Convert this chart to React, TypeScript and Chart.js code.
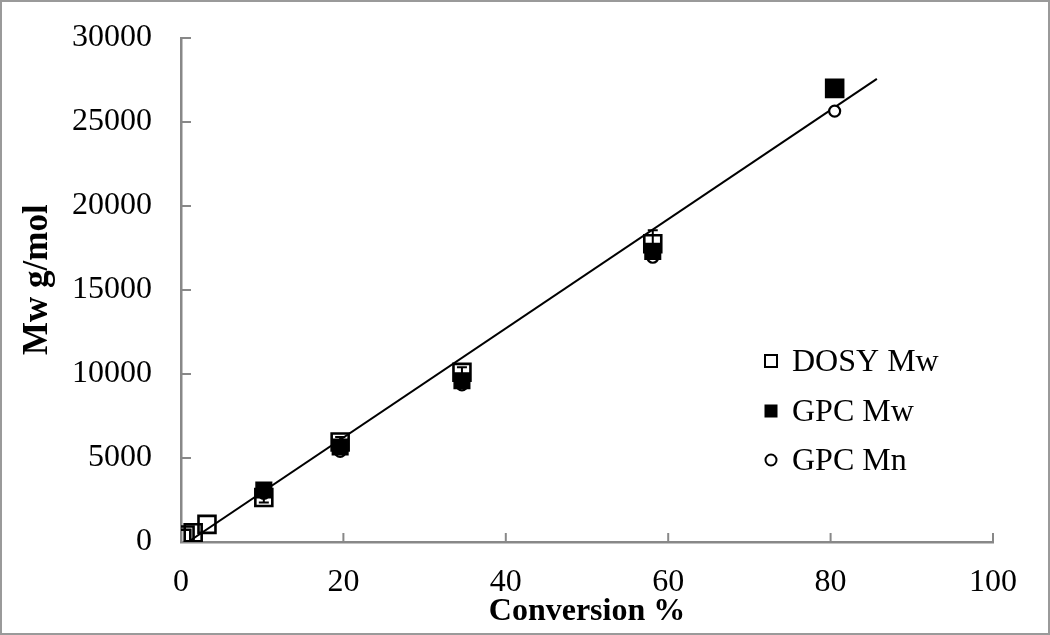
import React, { useEffect, useRef } from "react";
import { Chart, registerables } from "chart.js";

Chart.register(...registerables);

// ---- data ----
const dosyConversion = [0.1, 0.5, 1.5, 3.2, 10.2, 19.6, 34.6, 58.1, 80.5];
const dosyMw = [220, 420, 550, 1050, 2650, 5950, 10100, 17750, 27000];
const dosyError = [0, 0, 0, 0, 300, 300, 300, 800, 500];

const gpcConversion = [10.2, 19.6, 34.6, 58.1, 80.5];
const gpcMw = [3100, 5650, 9600, 17300, 27050];
const gpcMn = [2900, 5400, 9350, 16950, 25650];

const trendConversion = [0.86, 85.7];
const trendMw = [0, 27570];

const seriesLabels = ["DOSY Mw", "GPC Mw", "GPC Mn"];
const xTitle = "Conversion %";
const yTitle = "Mw g/mol";

const FONT = "'Liberation Serif', 'Times New Roman', serif";
const AXIS_GRAY = "#888888";

const pts = (xs: number[], ys: number[]) => xs.map((x, i) => ({ x, y: ys[i] }));

export default function App() {
  const ref = useRef<HTMLCanvasElement | null>(null);

  useEffect(() => {
    document.body.style.margin = "0";
    const canvas = ref.current;
    if (!canvas) return;

    const framePlugin = {
      id: "frame",
      beforeDraw(chart: any) {
        const ctx = chart.ctx;
        ctx.save();
        ctx.fillStyle = "#fff";
        ctx.fillRect(0, 0, chart.width, chart.height);
        ctx.strokeStyle = "#9a9a9a";
        ctx.lineWidth = 2;
        ctx.strokeRect(1, 1, chart.width - 2, chart.height - 2);
        ctx.restore();
      },
    };

    const innerTicksPlugin = {
      id: "innerTicks",
      beforeDatasetsDraw(chart: any) {
        const ctx = chart.ctx;
        const xs = chart.scales.x;
        const ys = chart.scales.y;
        const area = chart.chartArea;
        ctx.save();
        ctx.strokeStyle = AXIS_GRAY;
        ctx.lineWidth = 2;
        xs.ticks.forEach((t: any) => {
          if (t.value === 0) return;
          const px = xs.getPixelForValue(t.value);
          ctx.beginPath();
          ctx.moveTo(px, area.bottom);
          ctx.lineTo(px, area.bottom - 9);
          ctx.stroke();
        });
        ys.ticks.forEach((t: any) => {
          if (t.value === 0) return;
          const py = ys.getPixelForValue(t.value);
          ctx.beginPath();
          ctx.moveTo(area.left, py);
          ctx.lineTo(area.left + 10, py);
          ctx.stroke();
        });
        ctx.restore();
        // y axis title (rotated, real text)
        ctx.save();
        ctx.translate(47, 355);
        ctx.rotate(-Math.PI / 2);
        ctx.font = `bold 35px ${FONT}`;
        ctx.fillStyle = "#000";
        ctx.textAlign = "left";
        ctx.textBaseline = "alphabetic";
        ctx.fillText(yTitle, 0, 0);
        ctx.restore();
      },
    };

    const errorBarPlugin = {
      id: "errorBars",
      afterDatasetDraw(chart: any, args: any) {
        if (args.index !== 1) return;
        const ctx = chart.ctx;
        const xs = chart.scales.x;
        const ys = chart.scales.y;
        ctx.save();
        ctx.strokeStyle = "#000";
        ctx.lineWidth = 2;
        dosyConversion.forEach((c, i) => {
          const e = dosyError[i];
          if (!e) return;
          const px = xs.getPixelForValue(c);
          const top = ys.getPixelForValue(dosyMw[i] + e);
          const bot = ys.getPixelForValue(dosyMw[i] - e);
          ctx.beginPath();
          ctx.moveTo(px, top);
          ctx.lineTo(px, bot);
          ctx.moveTo(px - 5, top);
          ctx.lineTo(px + 5, top);
          ctx.moveTo(px - 5, bot);
          ctx.lineTo(px + 5, bot);
          ctx.stroke();
        });
        ctx.restore();
      },
    };

    const legendPlugin = {
      id: "customLegend",
      afterDraw(chart: any) {
        const ctx = chart.ctx;
        const rowsY = [361, 411, 460];
        const markerX = 771;
        const textX = 792;
        ctx.save();
        ctx.font = `32px ${FONT}`;
        ctx.textBaseline = "middle";
        ctx.textAlign = "left";
        ctx.fillStyle = "#000";
        seriesLabels.forEach((label, i) => {
          const y = rowsY[i];
          ctx.lineWidth = 2;
          ctx.strokeStyle = "#000";
          if (i === 0) {
            ctx.strokeRect(markerX - 6, y - 6, 12, 12);
          } else if (i === 1) {
            ctx.fillRect(markerX - 6.5, y - 6.5, 13, 13);
          } else {
            ctx.beginPath();
            ctx.arc(markerX, y, 5.5, 0, Math.PI * 2);
            ctx.stroke();
          }
          ctx.fillText(label, textX, y + 2);
        });
        ctx.restore();
      },
    };

    const chart = new Chart(canvas, {
      type: "scatter",
      data: {
        datasets: [
          {
            type: "line",
            label: "trend",
            data: pts(trendConversion, trendMw),
            borderColor: "#000",
            borderWidth: 2,
            pointRadius: 0,
            showLine: true,
            fill: false,
            order: 4,
          } as any,
          {
            label: seriesLabels[0],
            data: pts(dosyConversion, dosyMw),
            pointStyle: "rect",
            pointRadius: 12,
            borderColor: "#000",
            borderWidth: 2.6,
            backgroundColor: "rgba(0,0,0,0)",
            order: 3,
          },
          {
            label: seriesLabels[1],
            data: pts(gpcConversion, gpcMw),
            pointStyle: "rect",
            pointRadius: 11,
            borderColor: "#000",
            borderWidth: 1.5,
            backgroundColor: "#000",
            order: 1,
          },
          {
            label: seriesLabels[2],
            data: pts(gpcConversion, gpcMn),
            pointStyle: "circle",
            pointRadius: 5.5,
            borderColor: "#000",
            borderWidth: 2.2,
            backgroundColor: "#fff",
            order: 2,
          },
        ],
      },
      options: {
        responsive: false,
        animation: false,
        devicePixelRatio: 1,
        layout: { autoPadding: false, padding: { top: 38, right: 57, left: 0, bottom: 0 } },
        plugins: {
          legend: { display: false },
          title: { display: false },
          tooltip: { enabled: false },
        },
        scales: {
          x: {
            type: "linear",
            min: 0,
            max: 100,
            ticks: {
              stepSize: 20,
              color: "#000",
              padding: 21,
              font: { family: FONT, size: 32 },
            },
            grid: { display: false, drawTicks: false },
            border: { display: true, color: AXIS_GRAY, width: 2.5 },
            title: {
              display: true,
              text: xTitle,
              color: "#000",
              font: { family: FONT, size: 32, weight: "bold" },
              padding: { top: 0, bottom: 4 },
            },
            afterFit(scale: any) {
              scale.height = 93;
            },
          },
          y: {
            type: "linear",
            min: 0,
            max: 30000,
            ticks: {
              stepSize: 5000,
              color: "#000",
              padding: 29,
              font: { family: FONT, size: 32 },
              callback: (v: any) => String(v),
            },
            grid: { display: false, drawTicks: false },
            border: { display: true, color: AXIS_GRAY, width: 2.5 },
            title: { display: false },
            afterFit(scale: any) {
              scale.width = 181;
              scale.paddingTop = 0;
              scale.paddingBottom = 0;
            },
          },
        },
      },
      plugins: [framePlugin, innerTicksPlugin, errorBarPlugin, legendPlugin],
    });

    return () => chart.destroy();
  }, []);

  return (
    <div style={{ width: 1050, height: 635 }}>
      <canvas ref={ref} width={1050} height={635} style={{ display: "block" }} />
    </div>
  );
}
